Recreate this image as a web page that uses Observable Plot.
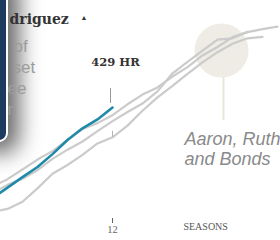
<!DOCTYPE html>
<html><head><meta charset="utf-8">
<script src="https://cdn.jsdelivr.net/npm/d3@7"></script>
<script src="https://cdn.jsdelivr.net/npm/@observablehq/plot@0.6"></script>
<style>
html,body{margin:0;padding:0;background:#fff;overflow:hidden;}
#wrap{position:relative;width:280px;height:240px;overflow:hidden;background:#fff;}
#panel{position:absolute;left:-20px;top:-20px;width:24px;height:158px;background:#1c3b5e;border:2px solid #fff;border-radius:0 0 9px 0;box-shadow:5px 5px 22px 6px rgba(0,0,0,0.6);z-index:0;}
#chart{position:absolute;left:0;top:0;z-index:1;}
</style></head><body>
<div id="wrap"><div id="panel"></div><div id="chart"></div></div>
<script>
// Cumulative home runs by season
const arod  = [0, 5, 41, 64, 106, 148, 189, 241, 298, 345, 381, 429];
const aaron = [13, 40, 66, 110, 140, 179, 219, 253, 298, 342, 366, 398, 442, 481, 510, 554, 592, 639, 673, 713, 733, 745, 755];
const ruth  = [0, 4, 7, 9, 20, 49, 103, 162, 197, 238, 284, 309, 356, 416, 470, 516, 565, 611, 652, 686, 708, 714];
const bonds = [16, 41, 65, 84, 117, 142, 176, 222, 259, 292, 334, 374, 411, 445, 494, 567, 613, 658, 703, 708, 734];
const xTicks = [12];
const xLabel = "SEASONS";
const endLabel = "429 HR";
const legendWords = ["of", "set", "ee", "n"];
const headLabel = "driguez";
const groupLabel = "Aaron, Ruth\nand Bonds";

const rows = arr => arr.map((hr, i) => ({season: i + 1, hr}));
const last = rows(arod)[arod.length - 1];

const gray = "#cbcbcb";
const wordDx = [13, 12, 7, 7];
const wordDy = [39.6, 60.6, 81.6, 102.6];

const chart = Plot.plot({
  width: 280, height: 240,
  marginLeft: 0, marginRight: 0, marginTop: 0, marginBottom: 22,
  style: {background: "transparent", overflow: "hidden", fontFamily: "Liberation Serif", fontSize: "10.5px", color: "#666"},
  x: {domain: [12 - 112 / 15, 12 + 168 / 15], ticks: xTicks, tickSize: 5, tickPadding: 2, label: null},
  y: {domain: [-18.6, 860.5], axis: null},
  marks: [
    Plot.dot([{season: 19.27, hr: 659}], {x: "season", y: "hr", r: 27, fill: "#eeece4"}),
    Plot.ruleX([{season: 19.4}], {x: "season", y1: 550, y2: 376, stroke: "#e8e6dc", strokeWidth: 2}),
    Plot.line(rows(ruth),  {x: "season", y: "hr", stroke: gray, strokeWidth: 2.2}),
    Plot.line(rows(bonds), {x: "season", y: "hr", stroke: gray, strokeWidth: 2.2}),
    Plot.line(rows(aaron), {x: "season", y: "hr", stroke: gray, strokeWidth: 2.2}),
    Plot.ruleX([rows(ruth)[11]], {x: "season", y1: "hr", y2: "hr", insetTop: -6, stroke: "#b5b5b5", strokeWidth: 1}),
    Plot.line(rows(arod), {x: "season", y: "hr", stroke: "#1f8aa8", strokeWidth: 2.6}),
    Plot.ruleX([last], {x: "season", y1: "hr", y2: "hr", insetTop: -19, insetBottom: 4, dx: -2, stroke: "#999", strokeWidth: 1}),
    Plot.text([last], {x: "season", y: "hr", text: () => endLabel, dx: 3, dy: -45.5, fontFamily: "DejaVu Serif", fontWeight: "bold", fontSize: 11.5, fill: "#333"}),
    Plot.text([groupLabel], {x: 16.8, y: 335.5, textAnchor: "start", lineAnchor: "top", lineHeight: 1.11, fontFamily: "Liberation Sans", fontStyle: "italic", fontSize: 18, fill: "#8a8a8a"}),
    Plot.text([xLabel], {x: 16.73, frameAnchor: "bottom", dy: 11.8, textAnchor: "start", fontFamily: "Liberation Serif", fontSize: 10, fill: "#555"}),
    Plot.text([headLabel], {frameAnchor: "top-left", dx: 9, dy: 13.5, textAnchor: "start", fontFamily: "DejaVu Serif", fontWeight: "bold", fontSize: 14, fill: "#333"}),
    Plot.text(["▲"], {frameAnchor: "top-left", dx: 80, dy: 15, fontSize: 7, fill: "#333"}),
    ...legendWords.map((w, i) => Plot.text([w], {frameAnchor: "top-left", dx: wordDx[i], dy: wordDy[i], textAnchor: "start", fontFamily: "Liberation Sans", fontSize: 17, fill: "#9c9c9c"}))
  ]
});
document.getElementById("chart").append(chart);
</script>
</body></html>
